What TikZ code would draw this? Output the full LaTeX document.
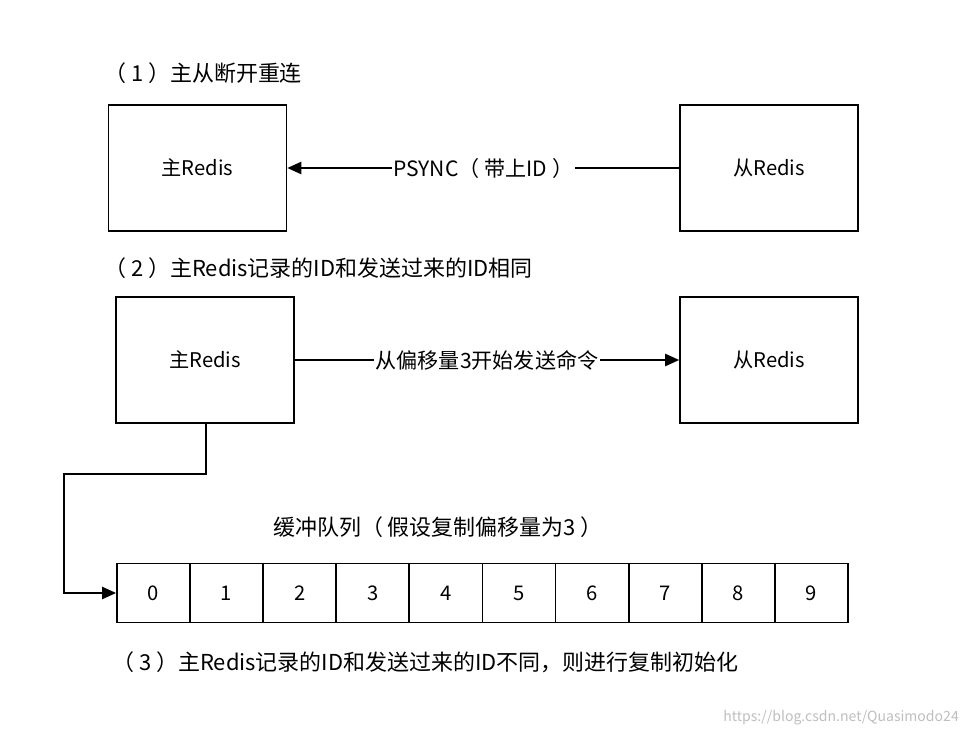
\documentclass[tikz,border=0pt]{standalone}
\usepackage{fontspec}
\setmainfont{Noto Sans CJK SC}
\usetikzlibrary{arrows.meta,positioning}
\tikzset{
  redisbox/.style={draw,line width=1pt,minimum width=3.56cm,minimum height=2.52cm,font=\fontsize{11.5}{13}\selectfont},
  cell/.style={draw,line width=1pt,minimum width=1.462cm,minimum height=1.18cm,inner sep=0pt,font=\fontsize{11.5}{13}\selectfont},
  caption/.style={anchor=west,font=\fontsize{12.5}{14}\selectfont},
  link/.style={line width=1pt,-{Triangle[length=8pt,width=7pt]}},
  lbl/.style={fill=white,inner sep=1pt,font=\fontsize{12}{14}\selectfont}
}
\begin{document}
\begin{tikzpicture}[x=0.02cm,y=-0.02cm]
  \useasboundingbox[fill=white] (0,0) rectangle (974,736);

  % (1)
  \node[caption] (cap1) at (98,73) {（ 1 ）主从断开重连};
  \node[redisbox] (m1) at (197.5,168) {主Redis};
  \node[redisbox] (s1) at (769,168) {从Redis};
  \draw[link] (s1) -- node[lbl] {PSYNC（ 带上ID ）} (m1);

  % (2)
  \node[caption] (cap2) at (98,268) {（ 2 ）主Redis记录的ID和发送过来的ID相同};
  \node[redisbox] (m2) at (205,360) {主Redis};
  \node[redisbox] (s2) at (769,360) {从Redis};
  \draw[link] (m2) -- node[lbl] {从偏移量3开始发送命令} (s2);

  % queue
  \node[font=\fontsize{12.5}{14}\selectfont] (qcap) at (438,527) {缓冲队列（ 假设复制偏移量为3 ）};
  \foreach \i in {0,...,9}
    \node[cell] (c\i) at (153.5+73.1*\i,593) {\i};
  \coordinate (bend1) at (206,474);
  \coordinate (bend2) at (64,474);
  \coordinate (bend3) at (64,593);
  \draw[link] (m2.south -| bend1) |- (bend2) -- (bend3) -- (c0.west);

  % (3)
  \node[caption] (cap3) at (106,662) {（ 3 ）主Redis记录的ID和发送过来的ID不同，则进行复制初始化};
  \node[anchor=east,text=black!25,font=\fontsize{8}{10}\selectfont] (wm) at (965,718) {https://blog.csdn.net/Quasimodo24};
\end{tikzpicture}
\end{document}
